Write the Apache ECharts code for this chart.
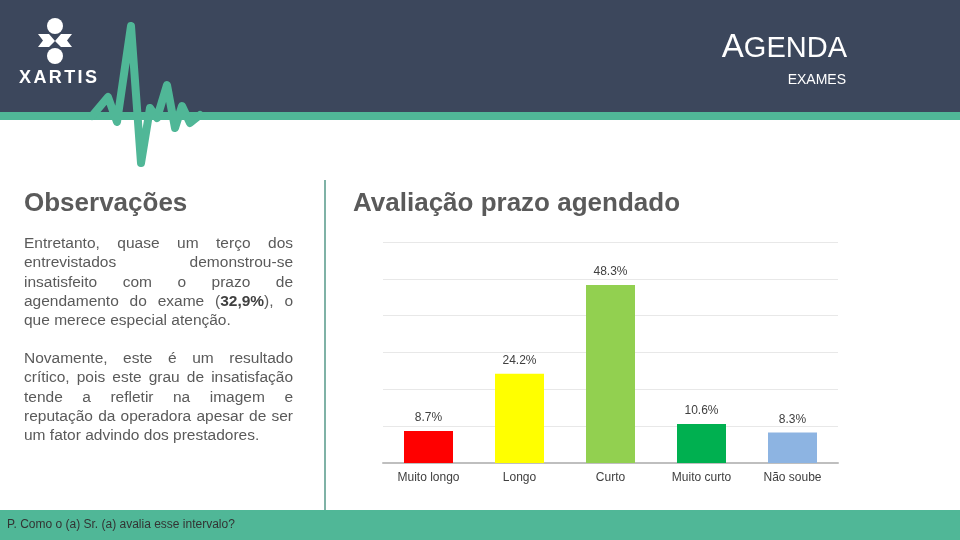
<!DOCTYPE html>
<html>
<head>
<meta charset="utf-8">
<script src="https://cdn.jsdelivr.net/npm/echarts@6/dist/echarts.min.js"></script>
<style>
html,body{margin:0;padding:0;background:#fff;}
#c{width:960px;height:540px;}
</style>
</head>
<body>
<div id="c"></div>
<script>
const categories = ['Muito longo', 'Longo', 'Curto', 'Muito curto', 'Não soube'];
const values = [8.7, 24.2, 48.3, 10.6, 8.3];
const barColors = ['#FF0000', '#FFFF00', '#92D050', '#00B050', '#8DB4E2'];
const yTicks = [0, 10, 20, 30, 40, 50, 60];

const headerTitleFirst = 'A';
const headerTitleRest = 'GENDA';
const headerSubtitle = 'EXAMES';
const leftTitle = 'Observações';
const chartTitle = 'Avaliação prazo agendado';
const paragraph1 = [
  'Entretanto, quase um terço dos',
  'entrevistados demonstrou-se',
  'insatisfeito com o prazo de',
  'agendamento do exame (**32,9%**), o',
  'que merece especial atenção.'
];
const paragraph2 = [
  'Novamente, este é um resultado',
  'crítico, pois este grau de insatisfação',
  'tende a refletir na imagem e',
  'reputação da operadora apesar de ser',
  'um fator advindo dos prestadores.'
];
const footerText = 'P. Como o (a) Sr. (a) avalia esse intervalo?';

const FF = "'Liberation Sans', Arial, sans-serif";
const DARK = '#3c475c';
const TEAL = '#50b797';
const TXT = '#5a5a5a';

const mctx = document.createElement('canvas').getContext('2d');
function measure(t, font) { mctx.font = font; return mctx.measureText(t).width; }

function parseWord(w) {
  const segs = [];
  const parts = w.split('**');
  parts.forEach((p, i) => { if (p) segs.push({ t: p, bold: i % 2 === 1 }); });
  return segs;
}

const bodySize = 15.5;
function fontOf(bold) { return (bold ? 'bold ' : '') + bodySize + 'px ' + FF; }

function lineElements(line, x0, x1, y, justify) {
  const words = line.split(' ').map(parseWord);
  const widths = words.map(segs => segs.reduce((s, g) => s + measure(g.t, fontOf(g.bold)), 0));
  const total = widths.reduce((a, b) => a + b, 0);
  const spaceW = measure(' ', fontOf(false));
  const gap = justify && words.length > 1 ? (x1 - x0 - total) / (words.length - 1) : spaceW;
  const els = [];
  let x = x0;
  words.forEach((segs, i) => {
    let sx = x;
    segs.forEach(g => {
      els.push({
        type: 'text', x: sx, y: y, silent: true,
        style: { text: g.t, font: fontOf(g.bold), fill: g.bold ? '#404040' : TXT, align: 'left', verticalAlign: 'middle' }
      });
      sx += measure(g.t, fontOf(g.bold));
    });
    x += widths[i] + gap;
  });
  return els;
}

const graphics = [];
// header band
graphics.push({ type: 'rect', shape: { x: 0, y: 0, width: 960, height: 112 }, style: { fill: DARK }, silent: true });
graphics.push({ type: 'rect', shape: { x: 0, y: 112, width: 960, height: 8 }, style: { fill: TEAL }, silent: true });
// heartbeat
graphics.push({
  type: 'polyline', silent: true,
  shape: { points: [[92, 116], [108, 97], [117, 122], [131, 26], [141, 163], [150, 108], [157, 118], [167, 85], [175, 128], [182, 106], [190, 123], [200, 115]] },
  style: { stroke: TEAL, lineWidth: 8, lineJoin: 'round', lineCap: 'round', fill: null }
});
// logo icon
graphics.push({ type: 'circle', shape: { cx: 55, cy: 26, r: 8 }, style: { fill: '#fff' }, silent: true });
graphics.push({ type: 'circle', shape: { cx: 55, cy: 56, r: 8 }, style: { fill: '#fff' }, silent: true });
graphics.push({ type: 'polygon', shape: { points: [[38, 34], [49, 34], [55, 41], [49, 47], [38, 47], [43, 40.5]] }, style: { fill: '#fff' }, silent: true });
graphics.push({ type: 'polygon', shape: { points: [[72, 34], [61, 34], [55, 41], [61, 47], [72, 47], [67, 40.5]] }, style: { fill: '#fff' }, silent: true });
// XARTIS letters
(function () {
  const f = '600 18px ' + FF;
  const letters = 'XARTIS'.split('');
  let x = 19;
  letters.forEach(l => {
    graphics.push({ type: 'text', x: x, y: 78, silent: true, style: { text: l, font: f, fill: '#fff', align: 'left', verticalAlign: 'middle' } });
    x += measure(l, f) + 2.4;
  });
})();
// AGENDA
(function () {
  const fRest = '29px ' + FF;
  const wRest = measure(headerTitleRest, fRest);
  graphics.push({ type: 'text', x: 847, y: 49, silent: true, style: { text: headerTitleRest, font: fRest, fill: '#fff', align: 'right', verticalAlign: 'middle' } });
  graphics.push({ type: 'text', x: 847 - wRest, y: 48, silent: true, style: { text: headerTitleFirst, font: '33px ' + FF, fill: '#fff', align: 'right', verticalAlign: 'middle' } });
  graphics.push({ type: 'text', x: 846, y: 80, silent: true, style: { text: headerSubtitle, font: '14px ' + FF, fill: '#fff', align: 'right', verticalAlign: 'middle' } });
})();
// titles
graphics.push({ type: 'text', x: 24, y: 204, silent: true, style: { text: leftTitle, font: 'bold 26px ' + FF, fill: TXT, align: 'left', verticalAlign: 'middle' } });
graphics.push({ type: 'text', x: 353, y: 204, silent: true, style: { text: chartTitle, font: 'bold 26px ' + FF, fill: TXT, align: 'left', verticalAlign: 'middle' } });
// paragraphs
const lh = 19.2;
paragraph1.forEach((l, i) => lineElements(l, 24, 293, 244 + i * lh, i < paragraph1.length - 1).forEach(e => graphics.push(e)));
paragraph2.forEach((l, i) => lineElements(l, 24, 293, 359 + i * lh, i < paragraph2.length - 1).forEach(e => graphics.push(e)));
// divider
graphics.push({ type: 'rect', shape: { x: 324, y: 180, width: 2, height: 330 }, style: { fill: '#7fb2a6' }, silent: true });
// footer
graphics.push({ type: 'rect', shape: { x: 0, y: 510, width: 960, height: 30 }, style: { fill: TEAL }, silent: true });
graphics.push({ type: 'text', x: 7, y: 525, silent: true, style: { text: footerText, font: '12px ' + FF, fill: '#333', align: 'left', verticalAlign: 'middle' } });

const chart = echarts.init(document.getElementById('c'), null, { renderer: 'canvas' });
chart.setOption({
  animation: false,
  backgroundColor: '#fff',
  graphic: { elements: graphics },
  grid: { left: 383, right: 122, top: 242, bottom: 77, containLabel: false },
  xAxis: {
    type: 'category',
    data: categories,
    axisLine: { lineStyle: { color: '#bfbfbf', width: 2 } },
    axisTick: { show: false },
    axisLabel: { color: '#404040', fontSize: 12, fontFamily: FF, margin: 9 }
  },
  yAxis: {
    type: 'value',
    min: yTicks[0],
    max: yTicks[yTicks.length - 1],
    interval: yTicks[1] - yTicks[0],
    axisLabel: { show: false },
    axisLine: { show: false },
    axisTick: { show: false },
    splitLine: { lineStyle: { color: '#e8e8e8', width: 1 } }
  },
  series: [{
    type: 'bar',
    barWidth: 49,
    data: values.map((v, i) => ({ value: v, itemStyle: { color: barColors[i] } })),
    label: {
      show: true, position: 'top', distance: 7,
      formatter: p => p.value.toFixed(1) + '%',
      color: '#404040', fontSize: 12, fontFamily: FF
    }
  }]
});
</script>
</body>
</html>
